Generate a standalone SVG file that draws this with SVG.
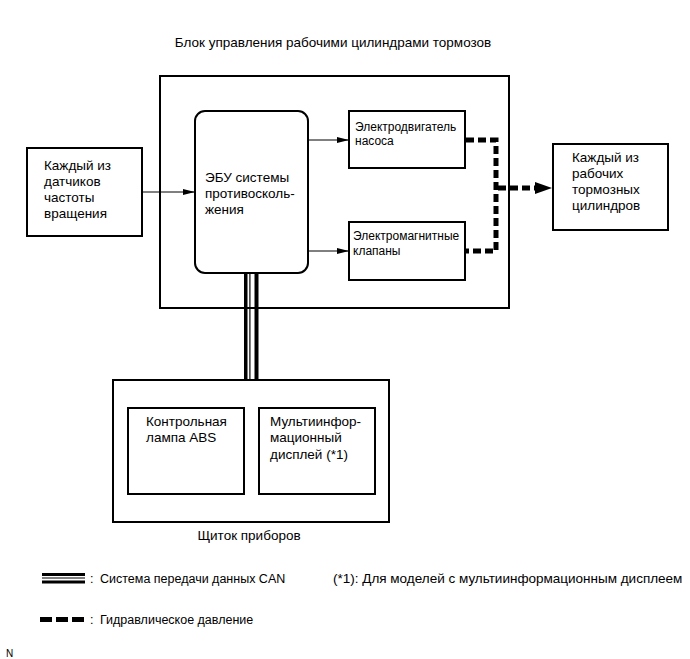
<svg xmlns="http://www.w3.org/2000/svg" width="690" height="659" viewBox="0 0 690 659">
<style>
text{font-family:"Liberation Sans",Arial,sans-serif;font-size:13.5px;fill:#000}
.sm{font-size:12px}
.lg{font-size:12.5px}
.box{fill:#fff;stroke:#000;stroke-width:2}
.ln{stroke:#000;stroke-width:1;fill:none}
.hyd{stroke:#000;stroke-width:5;fill:none;stroke-dasharray:8 4}
</style>
<defs>
<marker id="arr" markerWidth="12" markerHeight="6" refX="12" refY="3" orient="auto" markerUnits="userSpaceOnUse">
<path d="M0,0 L12,3 L0,6 Z" fill="#000"/>
</marker>
</defs>
<rect width="690" height="659" fill="#fff"/>
<text x="333" y="47" text-anchor="middle">Блок управления рабочими цилиндрами тормозов</text>
<g id="control-unit"><rect class="box" x="160" y="76" width="349" height="232"/></g>
<g id="sensors"><rect class="box" x="27" y="148" width="115" height="88"/>
<text x="44" y="170">Каждый из</text><text x="44" y="186">датчиков</text><text x="44" y="202">частоты</text><text x="44" y="218">вращения</text></g>
<g id="ecu"><rect class="box" x="195" y="111" width="113" height="162" rx="10"/>
<text x="205" y="182">ЭБУ системы</text><text x="205" y="198">противосколь-</text><text x="205" y="214">жения</text></g>
<g id="pump"><rect class="box" x="349" y="111" width="116" height="57"/>
<text class="sm" x="355" y="131">Электродвигатель</text><text class="sm" x="355" y="145">насоса</text></g>
<g id="solenoid"><rect class="box" x="349" y="222" width="116" height="58"/>
<text class="sm" x="353" y="240">Электромагнитные</text><text class="sm" x="353" y="255">клапаны</text></g>
<g id="wheel-cylinders"><rect class="box" x="553" y="144" width="115" height="86"/>
<text x="572" y="162">Каждый из</text><text x="572" y="178">рабочих</text><text x="572" y="194">тормозных</text><text x="572" y="210">цилиндров</text></g>
<g id="instrument-panel"><rect class="box" x="113" y="380" width="276" height="142"/>
<text x="249" y="540" text-anchor="middle">Щиток приборов</text></g>
<g id="abs-lamp"><rect class="box" x="128" y="408" width="116" height="86"/>
<text x="146" y="426">Контрольная</text><text x="146" y="442">лампа ABS</text></g>
<g id="mid"><rect class="box" x="259" y="408" width="116" height="86"/>
<text x="270" y="426">Мультиинфор-</text><text x="270" y="442">мационный</text><text x="270" y="459">дисплей (*1)</text></g>
<g id="connectors">
<line class="ln" x1="142" y1="192" x2="195" y2="192" marker-end="url(#arr)"/>
<line class="ln" x1="308" y1="140" x2="349" y2="140" marker-end="url(#arr)"/>
<line class="ln" x1="308" y1="251" x2="349" y2="251" marker-end="url(#arr)"/>
<rect x="244" y="274" width="3.5" height="106" fill="#000"/>
<rect x="249.3" y="274" width="1.2" height="106" fill="#000"/>
<rect x="254.5" y="274" width="4" height="106" fill="#000"/>
<path class="hyd" d="M466,140 H496 V251 H466"/>
<line class="hyd" x1="498" y1="188" x2="537" y2="188"/>
<path d="M535,182 L552,188 L535,194 Z" fill="#000"/>
</g>
<g id="legend">
<rect x="42" y="573" width="43" height="3" fill="#000"/>
<rect x="42" y="577.5" width="43" height="1" fill="#000"/>
<rect x="42" y="580.5" width="43" height="3" fill="#000"/>
<text class="lg" x="90" y="583">:</text>
<text class="lg" x="100" y="583">Система передачи данных CAN</text>
<text x="333" y="583">(*1): Для моделей с мультиинформационным дисплеем</text>
<rect x="40" y="617" width="12" height="5" fill="#000"/>
<rect x="56" y="617" width="12" height="5" fill="#000"/>
<rect x="72" y="617" width="12" height="5" fill="#000"/>
<text class="lg" x="90" y="624">:</text>
<text class="lg" x="100" y="624">Гидравлическое давление</text>
<text x="6" y="657" style="font-size:10px">N</text>
</g>
</svg>
